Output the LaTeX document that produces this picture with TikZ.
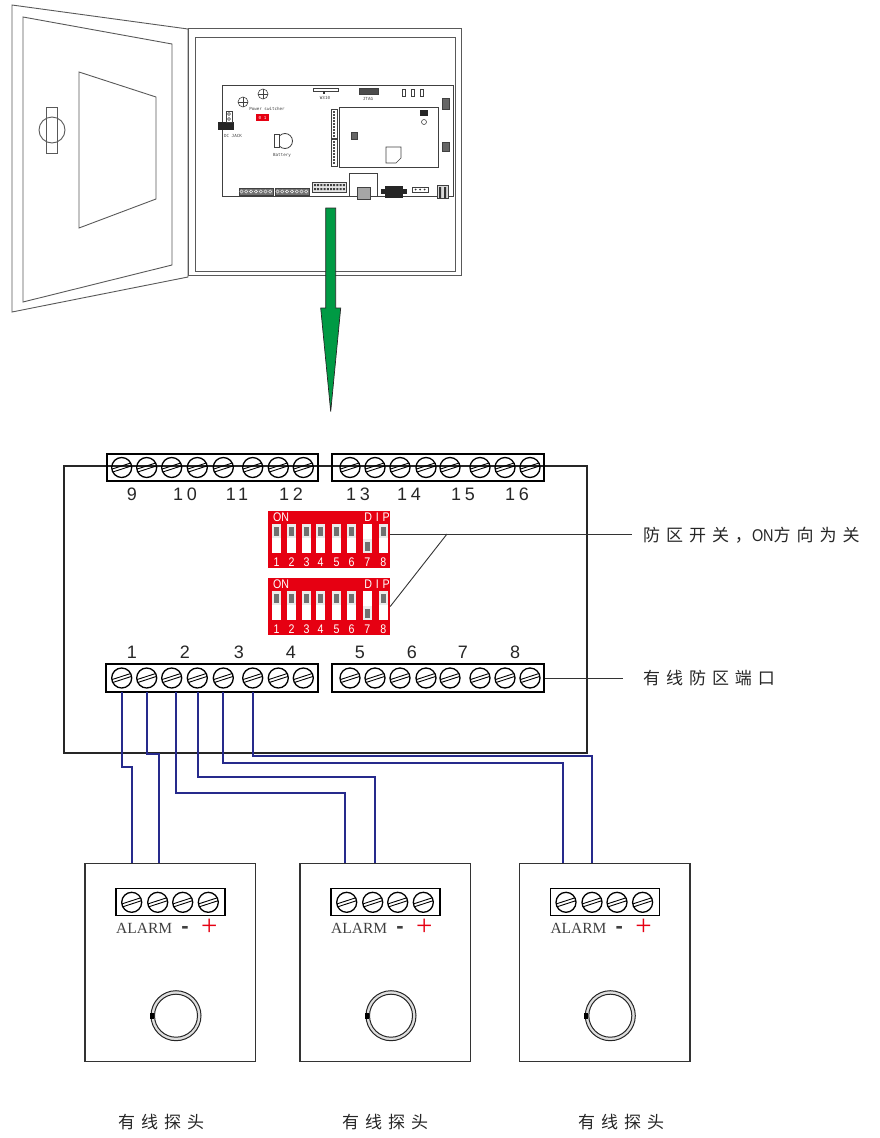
\documentclass[tikz,border=0pt]{standalone}
\usepackage{fontspec}
\setmainfont{Liberation Serif}
\newfontfamily\cjk[LetterSpace=35]{Noto Sans CJK SC}
\newfontfamily\numfont[LetterSpace=20]{Liberation Sans}
\newfontfamily\narrowfont[FakeStretch=0.85]{Liberation Sans}
\newfontfamily\spacedfont[FakeStretch=0.85,LetterSpace=30]{Liberation Sans}
\newfontfamily\boardfont{DejaVu Sans Mono}
\definecolor{dipred}{HTML}{E60012}
\definecolor{wireblue}{HTML}{262A8C}
\definecolor{arrowgreen}{HTML}{009A44}
\definecolor{knobgray}{HTML}{707070}
\tikzset{
  cab/.style={draw=black!65, line width=0.9pt},
  pcb/.style={draw=black!75, line width=0.6pt},
  boardtxt/.style={font=\boardfont\fontsize{4.2pt}{5pt}\selectfont, text=black!75, inner sep=0pt},
  panel/.style={draw=black!85, line width=1.2pt, inner sep=0pt},
  strip/.style={draw=black, line width=1.3pt, minimum height=27pt, inner sep=0pt},
  numlab/.style={font=\numfont\fontsize{18pt}{18pt}\selectfont, text=black!85, inner sep=0pt},
  dipbody/.style={fill=dipred, draw=none, minimum width=122pt, minimum height=57pt, inner sep=0pt},
  dipnum/.style={font=\narrowfont\fontsize{12.5pt}{12.5pt}\selectfont, text=white, inner sep=0pt},
  diptag/.style={font=\spacedfont\fontsize{12.5pt}{12.5pt}\selectfont, text=white, inner sep=0pt},
  lead/.style={draw=black!80, line width=0.9pt},
  wire/.style={draw=wireblue, line width=1.7pt},
  cjklab/.style={font=\cjk\fontsize{17pt}{20pt}\selectfont, text=black!85, inner sep=0pt},
  detbox/.style={draw=black!80, line width=1.2pt, minimum width=170.7pt, minimum height=198.4pt, inner sep=0pt},
  alarmtxt/.style={font=\fontsize{15.5pt}{16pt}\selectfont, text=black!75, inner sep=0pt},
  minustxt/.style={font=\bfseries\numfont\fontsize{22pt}{22pt}\selectfont, text=black!75, inner sep=0pt},
  plustxt/.style={font=\fontsize{29pt}{29pt}\selectfont, text=dipred, inner sep=0pt},
  screwhead/.pic={
    \draw[line width=1.3pt] (0,0) circle (10pt);
    \draw[line width=0.9pt] (-8.94,4.48) -- (9.87,-1.63) (-9.87,1.63) -- (8.94,-4.48);
  }
}
\begin{document}
\begin{tikzpicture}[x=1pt,y=-1pt]
\useasboundingbox (0,0) rectangle (880,1138);

% ---------- open cabinet: door ----------
\draw[cab] (12,5) -- (188,29) -- (188,277) -- (12,312) -- cycle;
\draw[cab] (23,17) -- (172,44) -- (172,265) -- (23,302) -- cycle;
\draw[cab] (79,72) -- (156,97) -- (156,199) -- (79,228) -- cycle;
\draw[cab] (52,130) circle (13pt);
\draw[cab] (46,107) rectangle (57,153);

% ---------- cabinet body ----------
\draw[cab] (188,28) rectangle (461,275);
\draw[cab] (195,37) rectangle (455,271);

% ---------- main board ----------
\draw[pcb, line width=0.9pt] (222,85) rectangle (453,196);
\foreach \c in {(243,102),(263,94)} {
  \draw[pcb] \c circle (5pt);
  \draw[pcb] \c ++(-5,0) -- ++(10,0) \c ++(0,-5) -- ++(0,10);
}
\node[boardtxt] (pwrlab) at (267,109) {Power switcher};
\fill[dipred] (256,114) rectangle (269,121);
\node[boardtxt, text=white] (pwrsw) at (262.5,117.5) {0 1};
\fill[black!85] (218,122) rectangle (234,130);
\draw[pcb] (226,111) rectangle (232,122);
\draw[pcb] (229,114) circle (1.5pt) (229,119) circle (1.5pt);
\node[boardtxt] (dclab) at (233,136) {DC JACK};
\draw[pcb, line width=0.8pt] (285,141) circle (7.5pt);
\draw[pcb, line width=0.8pt, fill=white] (274,134.5) rectangle (279,147.5);
\node[boardtxt] (batlab) at (282,155) {Battery};
\draw[pcb] (313,88) rectangle (338,91);
\fill[black!80] (323,91) rectangle (325,94);
\node[boardtxt] (wlab) at (325,98) {W310};
\draw[pcb, fill=black!70] (359,88) rectangle (378,94);
\node[boardtxt] (jtaglab) at (368,99) {JTAG};
\foreach \x in {404,413,422} \draw[pcb] (\x-1.5,89) rectangle (\x+1.5,96);
\draw[pcb] (339,107) rectangle (438,167);
\draw[pcb] (331,109) rectangle (337,138) (331,139) rectangle (337,166);
\foreach \yy in {111,114,...,135} \fill[black!70] (333,\yy) rectangle (335,\yy+1.6);
\foreach \yy in {141,144,...,163} \fill[black!70] (333,\yy) rectangle (335,\yy+1.6);
\draw[pcb, fill=black!60] (351,132) rectangle (357,139);
\fill[black!85] (420,110) rectangle (428,116);
\draw[pcb] (424,122) circle (2.5pt);
\draw[pcb] (386,147) -- (401,147) -- (401,158) -- (396,163) -- (386,163) -- cycle;
\draw[pcb, fill=black!60] (442,98) rectangle (449,109) (442,142) rectangle (449,151);
\draw[pcb, fill=black!55] (239,188) rectangle (273,195) (275,188) rectangle (309,195);
\foreach \x in {0,...,6} {
  \draw[white, line width=0.4pt] (241.5+\x*4.8,191.5) circle (1.6pt);
  \draw[white, line width=0.4pt] (277.5+\x*4.8,191.5) circle (1.6pt);
}
\draw[pcb, fill=black!10] (312,182) rectangle (346,192);
\foreach \x in {0,...,9} \fill[black!75] (314+\x*3.2,184) rectangle +(2,2) (314+\x*3.2,188) rectangle +(2,2);
\draw[pcb] (349,173) rectangle (377,196);
\draw[pcb, fill=black!35] (357,187) rectangle (370,199);
\fill[black!85] (381,189) rectangle (407,194);
\fill[black!85] (385,186) rectangle (403,198);
\draw[pcb] (412,187) rectangle (428,192);
\foreach \x in {415.5,420,424.5} \fill[black!80] (\x,189.5) circle (1pt);
\draw[pcb, fill=black!15] (437,185) rectangle (448,198);
\fill[black!80] (439,187) rectangle (441,198) (444,187) rectangle (446,198);

% ---------- green pointer ----------
\draw[fill=arrowgreen, draw=black!85, line width=0.7pt]
  (325.7,208) -- (335.7,208) -- (335.7,308) -- (340.7,308) -- (330.7,411.7)
  -- (320.7,308) -- (325.7,308) -- cycle;

% ---------- zone board ----------
\node[panel, minimum width=523pt, minimum height=287pt] (zonebox) at (325.5,609.5) {};
\node[strip, minimum width=211pt] (ts1) at (212.5,467.5) {};
\node[strip, minimum width=212pt] (ts2) at (438,467.5) {};
\node[strip, minimum width=212pt, minimum height=28pt] (bs1) at (212,678) {};
\node[strip, minimum width=212pt, minimum height=28pt] (bs2) at (438,678) {};
\foreach \x in {121.7,146.7,171.7,197.3,223.3,252.7,278.3,303.3,350,375,400,426,450,480,505,530} {
  \pic at (\x,467.5) {screwhead};
  \pic at (\x,678) {screwhead};
}
\foreach \x/\t in {132/9,185/10,237/11,291/12,358/13,409/14,463/15,517/16}
  \node[numlab] (n\t) at (\x,494) {\t};
\foreach \x/\t in {132/1,185/2,239/3,291/4,360/5,412/6,463/7,515/8}
  \node[numlab] (n\t) at (\x,652) {\t};

% ---------- DIP switches ----------
\foreach \n/\y in {1/511,2/578} {
  \node[dipbody] (dip\n) at (329,\y+28.5) {};
  \node[dipnum] (on\n) at (281,\y+6) {ON};
  \node[diptag] (dipt\n) at (377,\y+6) {DIP};
  \foreach \sx [count=\i] in {276.7,291.7,306.7,320.7,336.7,351.7,367.3,383.3} {
    \fill[white] (\sx-4.5,\y+13) rectangle (\sx+4.5,\y+42);
    \ifnum\i=7
      \fill[black!8] (\sx-4.5,\y+28) rectangle (\sx+4.5,\y+42);
      \fill[knobgray] (\sx-2.3,\y+30.5) rectangle (\sx+2.3,\y+39.5);
    \else
      \fill[black!8] (\sx-4.5,\y+13) rectangle (\sx+4.5,\y+27);
      \fill[knobgray] (\sx-2.3,\y+15.5) rectangle (\sx+2.3,\y+24.5);
    \fi
    \node[dipnum] (d\n s\i) at (\sx,\y+51) {\i};
  }
}

% ---------- callouts ----------
\node[cjklab, anchor=west] (lblDip) at (643,535) {防区开关，{\narrowfont ON}方向为关};
\node[cjklab, anchor=west] (lblPort) at (643,678) {有线防区端口};
\coordinate (joint) at (447,534);
\draw[lead] (dip1.east |- joint) -- ([xshift=-11pt]lblDip.west |- joint);
\draw[lead] (dip2.east) -- (joint);
\draw[lead] (bs2.east) -- ([xshift=-20pt]lblPort.west);

% ---------- detectors ----------
\foreach \dx/\n in {0/1,215/2,434.3/3} {
  \node[detbox] (det\n) at (170.4+\dx,962.5) {};
  \node[strip, minimum width=109pt, minimum height=27.4pt] (dts\n) at (170.5+\dx,902) {};
  \foreach \sx in {131.7,157.7,182.7,208.3} \pic at (\sx+\dx,902.3) {screwhead};
  \node[alarmtxt, anchor=base west] (alarm\n) at (116+\dx,933) {ALARM};
  \node[minustxt, anchor=base] (minus\n) at (185+\dx,933) {-};
  \node[plustxt, anchor=base] (plus\n) at (209.3+\dx,935) {+};
  \draw[black!85, line width=1pt, fill=gray!25, even odd rule]
    (176+\dx,1015.7) circle (25pt) (176+\dx,1015.7) circle (21.5pt);
  \fill[black] (150+\dx,1012.5) rectangle (154+\dx,1019);
}

% ---------- wiring from zone terminals to detectors ----------
\coordinate (w1) at (122,692);
\coordinate (w2) at (147,692);
\coordinate (w3) at (176,692);
\coordinate (w4) at (198,692);
\coordinate (w5) at (223,692);
\coordinate (w6) at (253,692);
\coordinate (k1) at (132,767);
\coordinate (k2) at (159,754);
\coordinate (k3) at (345,793);
\coordinate (k4) at (375,777);
\coordinate (k5) at (563,763);
\coordinate (k6) at (592,756);
\draw[wire] (w1) |- (k1) -- (k1 |- det1.north);
\draw[wire] (w2) |- (k2) -- (k2 |- det1.north);
\draw[wire] (w3) |- (k3) -- (k3 |- det2.north);
\draw[wire] (w4) |- (k4) -- (k4 |- det2.north);
\draw[wire] (w5) |- (k5) -- (k5 |- det3.north);
\draw[wire] (w6) |- (k6) -- (k6 |- det3.north);

% ---------- captions ----------
\node[cjklab, anchor=west] (cap1) at (118,1122) {有线探头};
\node[cjklab, anchor=west] (cap2) at (342,1122) {有线探头};
\node[cjklab, anchor=west] (cap3) at (578,1122) {有线探头};
\end{tikzpicture}
\end{document}
